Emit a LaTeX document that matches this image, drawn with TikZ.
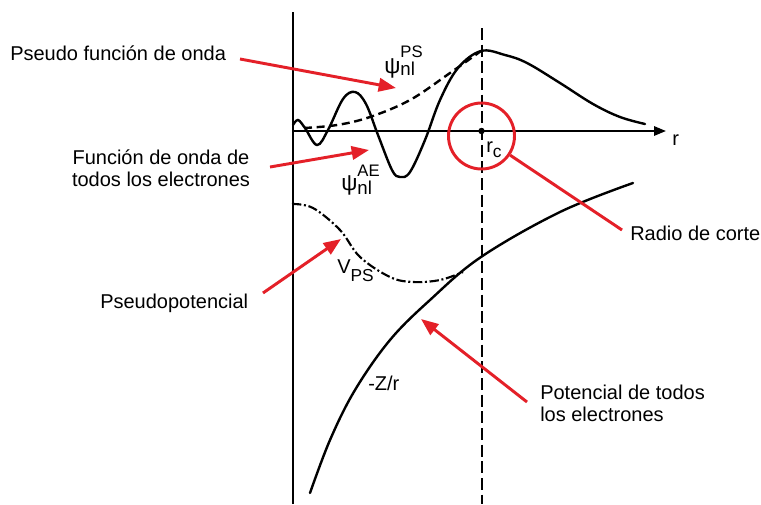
\documentclass[tikz,border=0pt]{standalone}
\usepackage{fontspec}
\setmainfont{Liberation Sans}
\usetikzlibrary{arrows.meta}
\definecolor{myred}{RGB}{228,32,40}
\newcommand{\psilbl}[3]{{\fontsize{17}{17}\selectfont ψ}\rlap{\fontsize{12.5}{12.5}\selectfont\raisebox{#2}{#1}}{\fontsize{14}{14}\selectfont\raisebox{#3}{nl}}}
\begin{document}
\begin{tikzpicture}[x=0.75pt,y=-0.75pt,
  lbl/.style={font=\fontsize{15}{16.5}\selectfont, inner sep=0pt},
  axisline/.style={line width=1.5pt},
  curve/.style={line width=1.8pt, line cap=round},
  redarrow/.style={myred, line width=2.2pt, -{Triangle[length=13pt,width=10pt]}},
  redline/.style={myred, line width=2.2pt}
]
\fill[white] (0,0) rectangle (761,504);
\useasboundingbox (0,0) rectangle (761,504);

% axes
\coordinate (yb) at (292.5,504);
\coordinate (yt) at (292.5,12);
\coordinate (xo) at (292.5,131);
\coordinate (xe) at (666,131);
\draw[axisline] (yb) -- (yt);
\draw[axisline, -{Triangle[length=9pt,width=7pt]}] (xo) -- (xe);
\node[lbl, anchor=base west] (rlab) at (672,145) {r};

% cutoff radius
\coordinate (rct) at (481.5,28);
\coordinate (rcb) at (481.5,504);
\draw[line width=1.5pt, dash pattern=on 9pt off 3.5pt] (rct) -- (rcb);
\fill (481.5,131) circle (3.2);
\node[lbl, anchor=base west] (rclab) at (486,152) {r\raisebox{-4pt}{\fontsize{13}{13}\selectfont c}};
\node[draw=myred, line width=2.2pt, circle, minimum size=49.5pt, inner sep=0pt] (rcirc) at (481.5,136) {};

% all-electron wave function
\draw[curve] plot[smooth, tension=0.6] coordinates {
 (293,125) (298,120) (305,128) (317,145) (328,130) (343,99) (355,92)
 (366,104) (378,135) (392,170) (400,177) (410,172) (425,140) (440,100)
 (458,68) (481,51) (505,55) (527,63) (560,83) (593,104) (620,117) (645,124)};
% pseudo wave function
\draw[curve, line cap=butt, dash pattern=on 6pt off 3.5pt] plot[smooth, tension=0.6] coordinates {
 (304,128) (337,125) (370,117) (410,100) (450,73) (481,51)};
% pseudopotential
\draw[line width=1.6pt, dash pattern=on 7pt off 2pt on 1.5pt off 2pt] plot[smooth, tension=0.6] coordinates {
 (292,204) (313,208) (340,230) (360,257) (390,277) (413,282) (440,280) (463,272)};
% -Z/r
\draw[curve] plot[smooth, tension=0.6] coordinates {
 (310,493) (330,440) (355,390) (390,340) (430,300) (481,257) (560,212) (633,183)};

% curve labels
\node[inner sep=0pt, anchor=base west] (psps) at (384,73) {\psilbl{PS}{12pt}{-1.5pt}};
\node[inner sep=0pt, anchor=base west] (psae) at (341,190) {\psilbl{AE}{10pt}{-3.5pt}};
\node[lbl, anchor=base west] (vps) at (337,273) {V\raisebox{-6pt}{\fontsize{13}{13}\selectfont PS}};
\node[lbl, anchor=base west] (zr) at (368,390) {-Z/r};

% annotation labels
\node[lbl, anchor=base west] (l1) at (10,60) {Pseudo función de onda};
\node[lbl, align=center] (l2) at (161,168) {Función de onda de\\todos los electrones};
\node[lbl, anchor=base west] (l3) at (100,308) {Pseudopotencial};
\node[lbl, align=left, anchor=north west] (l4) at (540,385) {Potencial de todos\\los electrones};
\node[lbl, anchor=base west] (l5) at (630,240) {Radio de corte};

% red arrows
\coordinate (a1s) at (240,59);  \coordinate (a1e) at (396,88);
\coordinate (a2s) at (270,167); \coordinate (a2e) at (369,150);
\coordinate (a3s) at (263,293); \coordinate (a3e) at (341,239);
\coordinate (a4s) at (527,402); \coordinate (a4e) at (421,319);
\coordinate (a5e) at (622,230);
\draw[redarrow] (a1s) -- (a1e);
\draw[redarrow] (a2s) -- (a2e);
\draw[redarrow] (a3s) -- (a3e);
\draw[redarrow] (a4s) -- (a4e);
\draw[redline] (rcirc) -- (a5e);
\end{tikzpicture}
\end{document}
